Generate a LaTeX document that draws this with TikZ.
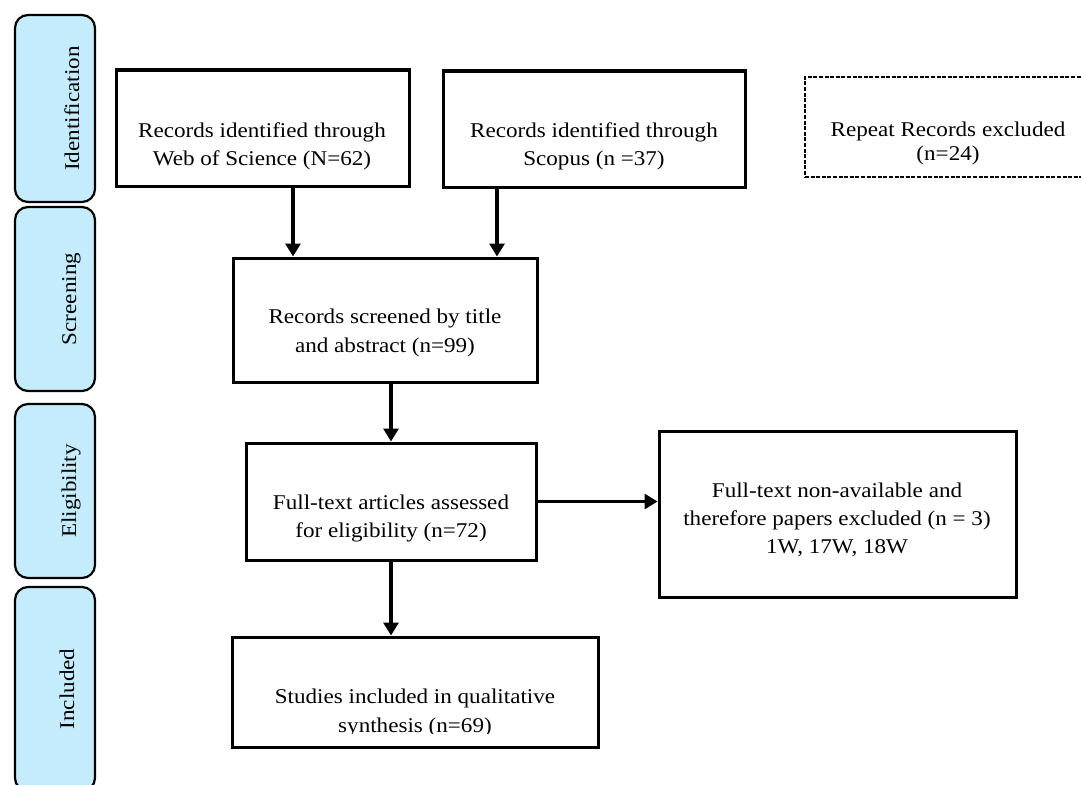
\documentclass[tikz,border=0pt]{standalone}
\usepackage{fontspec}
\setmainfont[FakeStretch=1.1]{Liberation Serif}
\usetikzlibrary{arrows.meta}
\definecolor{barblue}{RGB}{197,236,253}
\newcommand{\mlines}[1]{\begin{tabular}[t]{@{}c@{}}#1\end{tabular}}
\begin{document}
\begin{tikzpicture}[x=1pt,y=-1pt,
  bar/.style={draw=black, line width=2.2pt, fill=barblue, rounded corners=13pt, minimum width=80pt, inner sep=0pt},
  barlbl/.style={rotate=90, anchor=base, inner sep=0pt, font=\fontsize{21}{28}\selectfont},
  box/.style={draw=black, line width=3pt, inner sep=0pt},
  lbl/.style={anchor=base, inner sep=0pt, font=\fontsize{21}{28}\selectfont},
  arr/.style={line width=3.2pt, -{Triangle[length=13pt,width=15pt]}}
]
\clip (0,0) rectangle (1081,784);
\fill[white] (0,0) rectangle (1081,784);

% phase bars
\node[bar, minimum height=187pt] (bid) at (55,108.5) {};
\node[bar, minimum height=184pt] (bsc) at (55,299) {};
\node[bar, minimum height=174pt] (bel) at (55,491) {};
\node[bar, minimum height=204pt] (bin) at (55,689) {};
\node[barlbl] (tid) at (79,108.5) {Identification};
\node[barlbl] (tsc) at (76,299) {Screening};
\node[barlbl] (tel) at (76,491) {Eligibility};
\node[barlbl] (tin) at (74,689) {Included};

% boxes
\node[box, minimum width=293pt, minimum height=116pt] (wos) at (262.5,128) {};
\node[box, minimum width=302pt, minimum height=116pt] (sco) at (594,129) {};
\node[box, dash pattern=on 4pt off 1.6pt, line width=2.2pt, minimum width=295pt, minimum height=100pt] (rep) at (952.5,127) {};
\node[box, minimum width=304pt, minimum height=124pt] (scr) at (385,320) {};
\node[box, minimum width=290pt, minimum height=117pt] (eli) at (391,501.5) {};
\node[box, minimum width=357pt, minimum height=166pt] (exc) at (837.5,514) {};
\node[box, minimum width=366pt, minimum height=110pt] (inc) at (415,692) {};

% texts
\node[lbl] (twos) at (262,137) {\mlines{Records identified through\\Web of Science (N=62)}};
\node[lbl] (tsco) at (594,137) {\mlines{Records identified through\\Scopus (n =37)}};
\node[lbl, font=\fontsize{21}{24}\selectfont] (trep) at (948,136) {\mlines{Repeat Records excluded\\(n=24)}};
\node[lbl, font=\fontsize{21}{29.5}\selectfont] (tscr) at (385,323) {\mlines{Records screened by title\\and abstract (n=99)}};
\node[lbl] (teli) at (391,509) {\mlines{Full-text articles assessed\\for eligibility (n=72)}};
\node[lbl] (texc) at (837,497) {\mlines{Full-text non-available and\\therefore papers excluded (n = 3)\\1W, 17W, 18W}};
\begin{scope}
\clip (232,637) rectangle (598,733);
\node[lbl, font=\fontsize{21}{29}\selectfont] (tinc) at (415,703) {\mlines{Studies included in qualitative\\synthesis (n=69)}};
\end{scope}

% connectors
\coordinate (xa) at (293,0);
\coordinate (xb) at (497,0);
\coordinate (xc) at (391,0);
\draw[arr] (wos.south -| xa) -- (scr.north -| xa);
\draw[arr] (sco.south -| xb) -- (scr.north -| xb);
\draw[arr] (scr.south -| xc) -- (eli.north -| xc);
\draw[arr] (eli.east) -- (eli.east -| exc.west);
\draw[arr] (eli.south -| xc) -- (inc.north -| xc);
\end{tikzpicture}
\end{document}
